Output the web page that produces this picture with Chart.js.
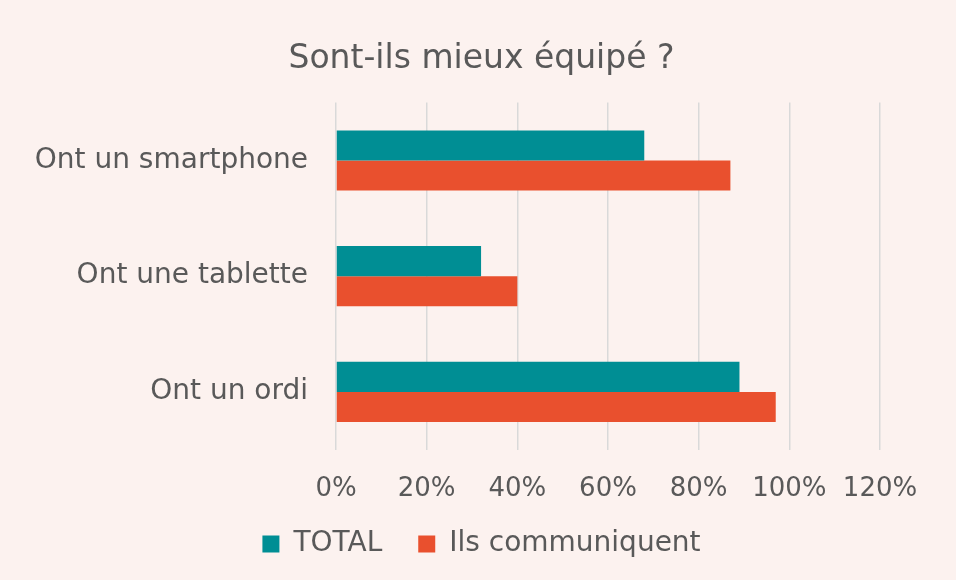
<!DOCTYPE html>
<html>
<head>
<meta charset="utf-8">
<script src="https://cdn.jsdelivr.net/npm/chart.js@4"></script>
<style>
  html, body { margin: 0; padding: 0; background: #FCF2EF; }
  #wrap { width: 956px; height: 580px; }
</style>
</head>
<body>
<div id="wrap"><canvas id="canvasBar" width="956" height="580"></canvas></div>
<script>
// categories
var labels = ['Ont un smartphone', 'Ont une tablette', 'Ont un ordi'];
// séries (en %)
var total = [68, 32, 89];
var communiquent = [87, 40, 97];
var ticksX = [0, 20, 40, 60, 80, 100, 120];

// légende : hauteur fixe + petit décalage vertical
var legendFix = {
  id: 'legendFix',
  afterInit: function (chart) {
    var lg = chart.legend;
    var fit = lg.fit;
    lg.fit = function () {
      fit.call(this);
      this.height = 51;
    };
    lg.draw = function () {
      chart.ctx.save();
      chart.ctx.translate(0, -35);
      this._draw();
      chart.ctx.restore();
    };
  }
};

var ctx = document.getElementById('canvasBar').getContext('2d');
var barChart = new Chart(ctx, {
  type: 'bar',
  data: {
    labels: labels,
    datasets: [
      {
        label: 'TOTAL',
        data: total,
        backgroundColor: 'rgb(0, 142, 148)',
        borderWidth: 0
      },
      {
        label: 'Ils communiquent',
        data: communiquent,
        backgroundColor: 'rgb(233, 80, 46)',
        borderWidth: 0
      }
    ]
  },
  options: {
    indexAxis: 'y',
    responsive: false,
    animation: false,
    categoryPercentage: 0.52,
    barPercentage: 1,
    layout: { padding: { left: 7, right: 0, top: 10, bottom: 0 } },
    scales: {
      x: {
        min: 0,
        max: 120,
        afterBuildTicks: function (axis) {
          axis.ticks = ticksX.map(function (v) { return { value: v }; });
        },
        grid: { color: '#D9D9D9', lineWidth: 1.5, drawTicks: false },
        border: { display: false },
        ticks: {
          color: '#595959',
          font: { family: 'DejaVu Sans', size: 26 },
          padding: 24,
          callback: function (v) { return v + '%'; }
        }
      },
      y: {
        grid: { display: false, drawTicks: false },
        border: { display: false },
        ticks: {
          color: '#595959',
          font: { family: 'DejaVu Sans', size: 28 },
          padding: 28
        },
        afterFit: function (s) { s.width = 329; }
      },
      // axe vide à droite pour réserver la marge
      y2: {
        type: 'linear',
        position: 'right',
        display: true,
        grid: { display: false, drawTicks: false },
        border: { display: false },
        ticks: { display: false },
        afterFit: function (s) { s.width = 76; }
      }
    },
    plugins: {
      title: {
        display: true,
        text: 'Sont-ils mieux équipé ?',
        color: '#595959',
        font: { family: 'DejaVu Sans', size: 33, weight: 'normal' },
        padding: { top: 30, bottom: 23 }
      },
      legend: {
        position: 'bottom',
        labels: {
          color: '#595959',
          font: { family: 'DejaVu Sans', size: 28 },
          boxWidth: 17,
          boxHeight: 17,
          padding: 36
        }
      },
      tooltip: { enabled: false }
    }
  },
  plugins: [legendFix]
});
</script>
</body>
</html>
